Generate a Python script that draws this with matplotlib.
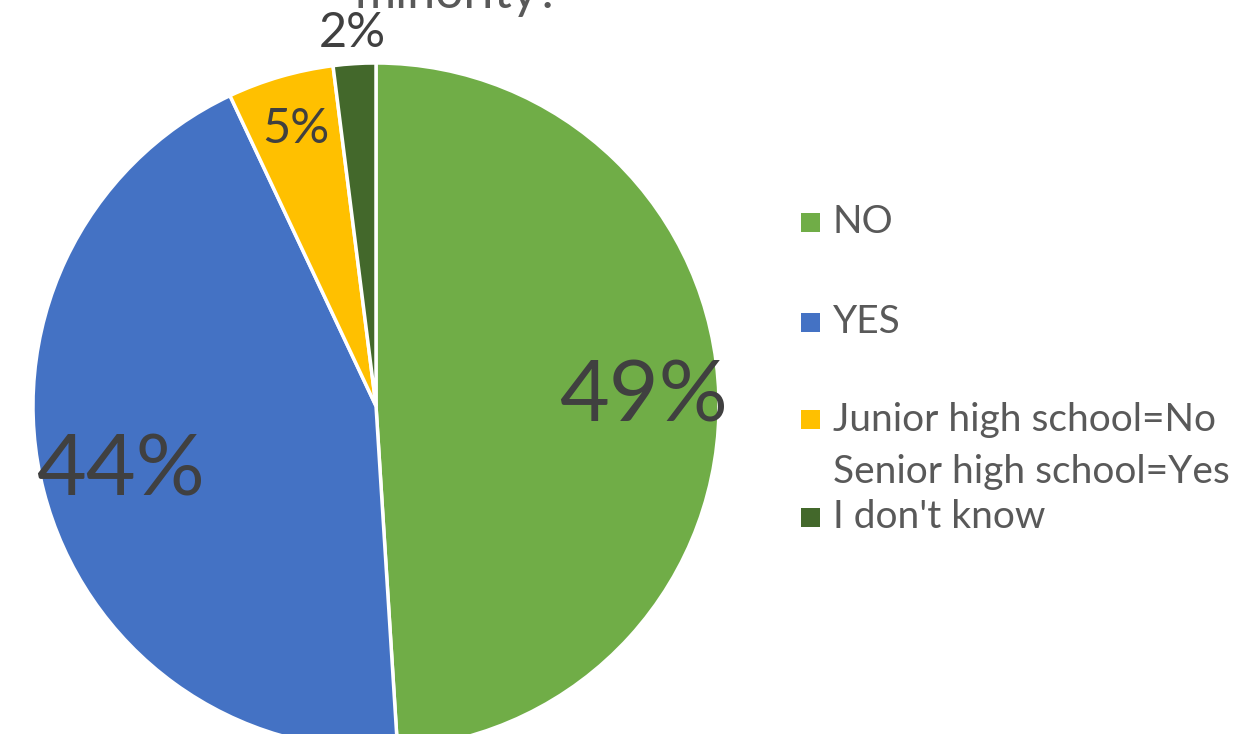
import numpy as np
import matplotlib
matplotlib.use("Agg")
import matplotlib.pyplot as plt
from matplotlib.patches import Rectangle

plt.rcParams['font.family'] = ['Lato', 'DejaVu Sans']

# survey answers
categories = ["NO", "YES", "Junior high school=No\nSenior high school=Yes", "I don't know"]
values = [49, 44, 5, 2]
pct_labels = ["49%", "44%", "5%", "2%"]
colors = ["#70AD47", "#4472C4", "#FFC000", "#43682B"]

W, H = 1235, 734
fig = plt.figure(figsize=(W / 100, H / 100), dpi=100)

# pie centre (376, 406) px, radius 343 px
cx, cy, r = 376, 406, 343
ax = fig.add_axes([(cx - r) / W, (H - cy - r) / H, 2 * r / W, 2 * r / H])
wedges, _ = ax.pie(values, colors=colors, startangle=90, counterclock=False,
                   radius=1.0, wedgeprops=dict(edgecolor="white", linewidth=2.5))
ax.set_xlim(-1, 1)
ax.set_ylim(-1, 1)
ax.set_aspect("equal")
ax.axis("off")

# percentage labels along each wedge's mid angle
label_r = [0.78, 0.77, 0.84, 1.09]
label_size = [62, 62, 35, 35]
for w, txt, lr, fs in zip(wedges, pct_labels, label_r, label_size):
    ang = np.deg2rad((w.theta1 + w.theta2) / 2)
    ax.text(lr * np.cos(ang), lr * np.sin(ang), txt, ha="center", va="center",
            fontsize=fs, color="#404040", clip_on=False)

# title, last line only shows above the pie
fig.text(458 / W, 1 - 8 / H, "minority?", ha="center", va="baseline",
         fontsize=36, color="#595959")

# legend
leg_y = [222, 322, 420, 517]
line_gap = 52
for col, lab, y in zip(colors, categories, leg_y):
    fig.patches.append(Rectangle((801 / W, 1 - (y + 9.5) / H), 19 / W, 19 / H,
                                 transform=fig.transFigure, facecolor=col,
                                 edgecolor="none"))
    for k, line in enumerate(lab.split("\n")):
        fig.text(833 / W, 1 - (y + k * line_gap) / H, line, ha="left", va="center",
                 fontsize=28, color="#595959")

fig.savefig("out.png", dpi=100)
